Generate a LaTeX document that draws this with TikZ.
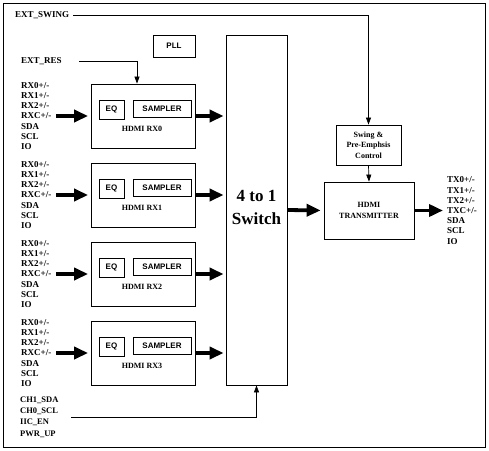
\documentclass[tikz,border=0pt]{standalone}
\usepackage{fontspec}
\setmainfont{Liberation Serif}
\setsansfont{Liberation Sans}
\usetikzlibrary{arrows.meta}

\begin{document}
\begin{tikzpicture}[x=1pt, y=-1pt,
    myblock/.style={draw, line width=0.8pt, inner sep=0pt},
    mypin/.style={font=\bfseries\fontsize{9}{10.2}\selectfont, align=left, anchor=west, inner sep=0pt},
    mysmall/.style={font=\bfseries\fontsize{8}{10.5}\selectfont, align=center, inner sep=0pt},
    mysans/.style={font=\sffamily\bfseries\fontsize{8}{9}\selectfont},
    mybus/.style={line width=3.8pt, -{Triangle[length=14pt,width=12pt]}},
    mywire/.style={line width=0.7pt, -{Triangle[length=7pt,width=5pt]}}
  ]
  \useasboundingbox (0,0) rectangle (489,450);
  \draw[line width=0.8pt] (3,3) rectangle (485,447);

  % central blocks
  \node[myblock, minimum width=61pt, minimum height=350pt] (switch) at (256.5,210) {};
  \node[font=\bfseries\fontsize{17}{23}\selectfont, align=center] (switchtxt) at (256.5,207) {4 to 1\\Switch};
  \node[myblock, mysans, minimum width=42pt, minimum height=22pt] (pll) at (174,46) {PLL};
  \node[myblock, mysmall, minimum width=65pt, minimum height=40pt] (swing) at (368.5,145) {Swing \&\\Pre-Emphsis\\Control};
  \node[myblock, mysmall, minimum width=90pt, minimum height=57pt] (tx) at (369,210.5) {HDMI\\TRANSMITTER};

  % receivers
  \foreach \myi in {0,...,3} {
    \begin{scope}[shift={(0,79*\myi)}]
      \node[myblock, minimum width=104pt, minimum height=64pt] (rx\myi) at (143,116) {};
      \node[myblock, mysans, minimum width=25pt, minimum height=19pt] (eq\myi) at (111.5,109.5) {EQ};
      \node[myblock, mysans, minimum width=58pt, minimum height=17pt] (smp\myi) at (162,108.5) {SAMPLER};
      \node[mysmall] (rxtxt\myi) at (142,128.5) {HDMI RX\myi};
      \node[mypin] (rxpins\myi) at (21,116) {RX0+/-\\RX1+/-\\RX2+/-\\RXC+/-\\SDA\\SCL\\IO};
      \coordinate (rxin\myi) at (56,116);
      \draw[mybus, shorten >=2.5pt] (rxin\myi) -- (rx\myi.west);
      \draw[mybus, shorten >=2pt] (rx\myi.east) -- (rx\myi.east -| switch.west);
    \end{scope}
  }

  % transmitter side
  \draw[mybus, shorten <=0.5pt, shorten >=3pt] (switch.east) -- (tx.west);
  \coordinate (txout) at (443,210.5);
  \draw[mybus] (tx.east) -- (txout);
  \node[mypin] (txpins) at (447,210.5) {TX0+/-\\TX1+/-\\TX2+/-\\TXC+/-\\SDA\\SCL\\IO};
  \draw[mywire] (swing.south) -- (tx.north);

  % control inputs
  \node[mypin] (extswing) at (15,15) {EXT\_SWING};
  \draw[mywire] (extswing.east) ++(4,0) -| (swing.north);
  \node[mypin] (extres) at (21,61) {EXT\_RES};
  \coordinate (resin) at (79,61);
  \draw[mywire] (resin) -| ([xshift=-6pt]rx0.north);
  \node[mypin, font=\bfseries\fontsize{8.5}{11.3}\selectfont] (ctrlpins) at (20,417) {CH1\_SDA\\CH0\_SCL\\IIC\_EN\\PWR\_UP};
  \coordinate (ctrlin) at (71,417);
  \draw[mywire] (ctrlin) -| (switch.south);
\end{tikzpicture}
\end{document}
